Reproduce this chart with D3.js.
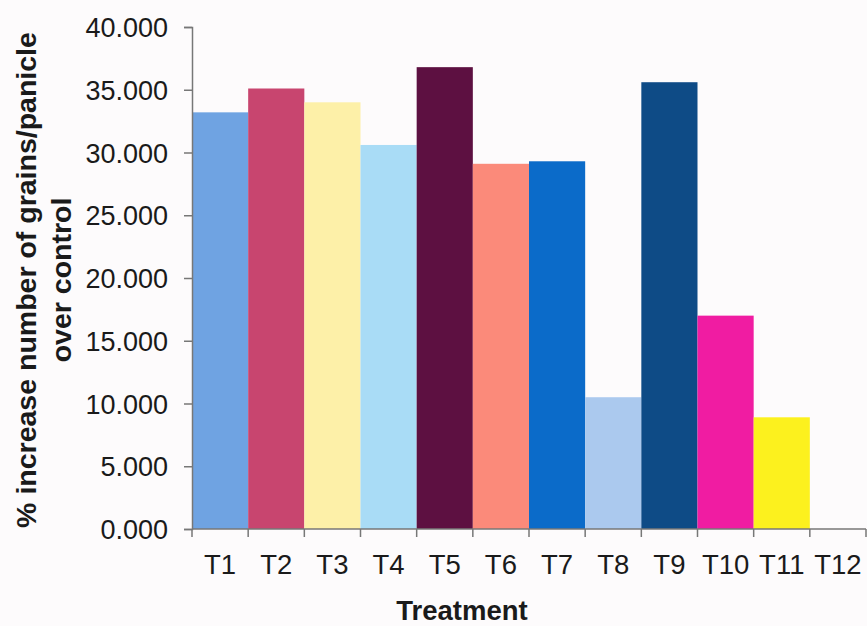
<!DOCTYPE html>
<html>
<head>
<meta charset="utf-8">
<script src="https://cdn.jsdelivr.net/npm/d3@7"></script>
<style>
  html, body { margin: 0; padding: 0; background: #fdfbfc; }
  svg { display: block; }
  text { font-family: "Liberation Sans", Arial, sans-serif; fill: #1a1a1a; }
</style>
</head>
<body>
<svg id="chart" width="867" height="626"></svg>
<script>
// Treatments and their % increase in grains/panicle over control
const treatments = ["T1","T2","T3","T4","T5","T6","T7","T8","T9","T10","T11","T12"];
const increase = [33.2, 35.1, 34.0, 30.6, 36.8, 29.1, 29.3, 10.5, 35.6, 17.0, 8.9, 0];
const barColors = ["#6fa3e2","#c8456f","#fdf0a8","#a9dcf6","#5d1041","#fb8a7a",
                   "#0b6bc9","#abc9ee","#0e4b86","#f01ca2","#fcf11e","#ffffff"];
const yTicks = [0, 5, 10, 15, 20, 25, 30, 35, 40];

const svg = d3.select("#chart");
const margin = { left: 192, right: 1, top: 27, bottom: 97 };
const W = 867, H = 626;

const x = d3.scaleBand().domain(treatments).range([margin.left, W - margin.right]).padding(0);
const y = d3.scaleLinear().domain([0, 40]).range([H - margin.bottom, margin.top]);

// bars
svg.append("g").selectAll("rect")
  .data(treatments)
  .join("rect")
  .attr("x", (d) => x(d))
  .attr("width", x.bandwidth())
  .attr("y", (d, i) => y(increase[i]))
  .attr("height", (d, i) => y(0) - y(increase[i]))
  .attr("fill", (d, i) => barColors[i]);

// y axis
const yAxis = svg.append("g")
  .attr("transform", `translate(${margin.left},0)`)
  .call(d3.axisLeft(y).tickValues(yTicks).tickFormat(d3.format(".3f")).tickSize(8).tickPadding(16));
yAxis.selectAll("text").style("font-size", "27px").attr("dy", "0.36em");

// x axis: ticks sit on band boundaries
const xAxis = svg.append("g")
  .attr("transform", `translate(0,${y(0)})`)
  .call(d3.axisBottom(x).tickSize(0).tickPadding(25));
xAxis.selectAll("text").style("font-size", "27.5px");
xAxis.select(".domain").remove();
xAxis.append("line")
  .attr("x1", margin.left).attr("x2", W - margin.right)
  .attr("stroke", "#777").attr("stroke-width", 1.5);
xAxis.selectAll(".bound")
  .data(treatments.concat(["end"]))
  .join("line")
  .attr("class", "bound")
  .attr("x1", (d, i) => margin.left + i * x.step())
  .attr("x2", (d, i) => margin.left + i * x.step())
  .attr("y1", 0).attr("y2", 8)
  .attr("stroke", "#777").attr("stroke-width", 1.5);

svg.selectAll(".domain, .tick line").attr("stroke", "#777").attr("stroke-width", 1.5);

// axis titles
svg.append("text")
  .attr("x", 462).attr("y", 620)
  .attr("text-anchor", "middle")
  .style("font-size", "27.5px").style("font-weight", "bold")
  .text("Treatment");

const yTitle = svg.append("text")
  .attr("transform", "translate(36,280) rotate(-90)")
  .attr("text-anchor", "middle")
  .style("font-size", "28.5px").style("font-weight", "bold");
yTitle.append("tspan").attr("x", 0).attr("y", 0).text("% increase number of grains/panicle");
yTitle.append("tspan").attr("x", 0).attr("y", 35).text("over control");
</script>
</body>
</html>
